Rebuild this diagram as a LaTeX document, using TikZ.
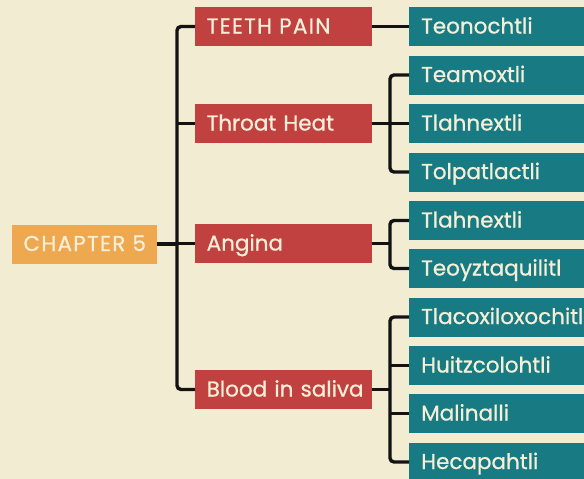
\documentclass[tikz,border=0pt]{standalone}
\usepackage{fontspec}
\setmainfont{Poppins}[FakeBold=0.8]
\newfontfamily\capsfont{Poppins}[FakeBold=0.8, LetterSpace=6]
\usepackage{tikz}
\usepackage{xcolor}

\definecolor{paper}{HTML}{F2EDD2}
\definecolor{chaporange}{HTML}{EEA84F}
\definecolor{topicred}{HTML}{C0413F}
\definecolor{herbteal}{HTML}{187B83}
\definecolor{labelcream}{HTML}{F5EFD8}

\tikzset{
  box/.style={anchor=west, minimum height=39pt, inner ysep=0pt,
    text height=15pt, text depth=1pt, text=labelcream,
    font=\fontsize{21.5}{25}\selectfont},
  chapbox/.style={box, fill=chaporange, minimum width=145pt, inner xsep=0pt,
    font=\fontsize{21.5}{25}\capsfont},
  topicbox/.style={box, fill=topicred, text width=154pt, inner xsep=11.5pt, align=left},
  herbbox/.style={box, fill=herbteal, text width=220pt, inner xsep=12pt, align=left},
  link/.style={line width=3.4pt, black!93, rounded corners=4pt},
}

\begin{document}
\begin{tikzpicture}[x=1pt, y=-1pt]
  % page and background
  \useasboundingbox (0,0) rectangle (584,479);
  \fill[paper] (0,0) rectangle (584,479);
  \clip (0,0) rectangle (584,479);

  % root and first level
  \node[chapbox] (chap) at (12,244) {CHAPTER 5};
  \node[topicbox] (teeth) at (195,26.5) {\capsfont TEETH PAIN};
  \node[topicbox] (throat) at (195,123.5) {Throat Heat};
  \node[topicbox] (angina) at (195,243.5) {Angina};
  \node[topicbox] (blood) at (195,389.5) {\mbox{Blood in saliva}};

  % second level
  \node[herbbox] (teon) at (409,26.5) {Teonochtli};
  \node[herbbox] (team) at (409,75) {Teamoxtli};
  \node[herbbox] (tlahA) at (409,123.5) {Tlahnextli};
  \node[herbbox] (tolp) at (409,172) {Tolpatlactli};
  \node[herbbox] (tlahB) at (409,220.5) {Tlahnextli};
  \node[herbbox] (teoy) at (409,268.5) {Teoyztaquilitl};
  \node[herbbox] (tlac) at (409,317) {Tlacoxiloxochitl};
  \node[herbbox] (huit) at (409,365.5) {Huitzcolohtli};
  \node[herbbox] (mali) at (409,413.5) {Malinalli};
  \node[herbbox] (heca) at (409,462) {Hecapahtli};

  % forks
  \coordinate (trunk) at (177,244);
  \coordinate (forkB) at (390,123.5);
  \coordinate (forkC) at (390,243.5);
  \coordinate (forkD) at (390,389.5);

  % chapter to topics
  \draw[link] (teeth.west) -| (trunk) |- (blood.west);
  \draw[link] (chap.east) -- (trunk);
  \draw[link] (trunk |- throat.west) -- (throat.west);
  \draw[link] (trunk |- angina.west) -- (angina.west);

  % topics to herbs
  \draw[link] (teeth.east) -- (teon.west);
  \draw[link] (team.west) -| (forkB) |- (tolp.west);
  \draw[link] (throat.east) -- (tlahA.west);
  \draw[link] (tlahB.west) -| (forkC) |- (teoy.west);
  \draw[link] (angina.east) -- (forkC);
  \draw[link] (tlac.west) -| (forkD) |- (heca.west);
  \draw[link] (blood.east) -- (forkD);
  \draw[link] (forkD |- huit.west) -- (huit.west);
  \draw[link] (forkD |- mali.west) -- (mali.west);
\end{tikzpicture}
\end{document}
